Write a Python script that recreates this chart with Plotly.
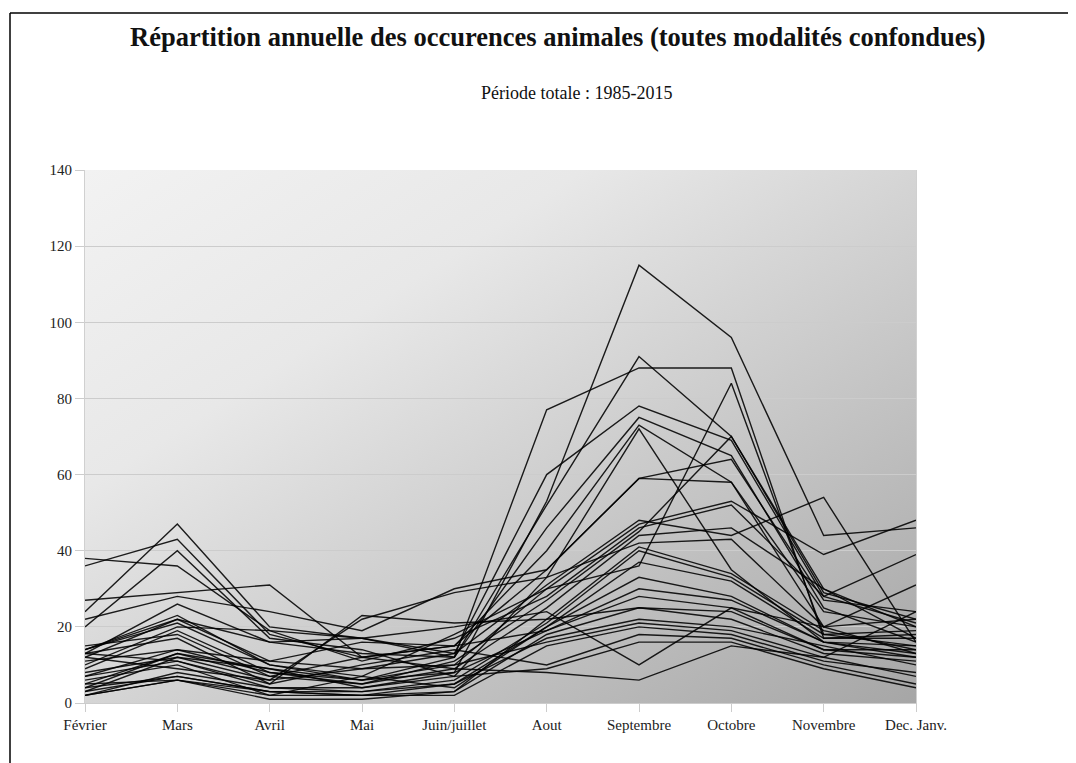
import base64
import plotly.graph_objects as go

categories = ["Février", "Mars", "Avril", "Mai", "Juin/juillet", "Aout",
              "Septembre", "Octobre", "Novembre", "Dec. Janv."]

y_ticks = [0, 20, 40, 60, 80, 100, 120, 140]

v1985 = [5, 13, 9, 4, 8, 53, 115, 96, 44, 46]
v1986 = [14, 23, 10, 6, 12, 52, 91, 70, 29, 22]
v1987 = [13, 26, 16, 13, 12, 77, 88, 88, 17, 18]
v1988 = [7, 14, 8, 6, 10, 30, 36, 84, 18, 15]
v1989 = [24, 47, 20, 17, 13, 60, 78, 69, 28, 21]
v1990 = [38, 36, 19, 17, 12, 46, 75, 65, 25, 16]
v1991 = [36, 43, 18, 12, 15, 40, 73, 58, 20, 13]
v1992 = [20, 40, 17, 14, 7, 33, 72, 35, 16, 12]
v1993 = [27, 29, 31, 12, 15, 35, 59, 64, 27, 24]
v1994 = [22, 28, 24, 19, 30, 35, 59, 58, 24, 20]
v1995 = [12, 22, 11, 9, 13, 31, 48, 44, 54, 16]
v1996 = [14, 21, 10, 7, 18, 30, 47, 53, 39, 48]
v1997 = [10, 20, 19, 11, 17, 28, 46, 52, 28, 39]
v1998 = [9, 19, 8, 5, 11, 27, 45, 70, 30, 17]
v1999 = [15, 18, 7, 12, 9, 25, 44, 46, 30, 20]
v2000 = [3, 12, 6, 22, 29, 33, 42, 43, 20, 31]
v2001 = [13, 11, 5, 23, 21, 22, 41, 34, 19, 14]
v2002 = [2, 8, 4, 3, 6, 21, 40, 33, 18, 19]
v2003 = [4, 7, 3, 2, 5, 20, 37, 32, 17, 17]
v2004 = [6, 10, 2, 7, 4, 20, 33, 28, 16, 15]
v2005 = [11, 14, 11, 16, 15, 19, 30, 27, 16, 13]
v2006 = [8, 12, 9, 6, 8, 19, 28, 25, 14, 12]
v2007 = [2, 6, 1, 1, 3, 18, 25, 22, 13, 11]
v2008 = [3, 7, 3, 3, 5, 17, 22, 20, 15, 10]
v2009 = [12, 9, 6, 9, 10, 16, 21, 19, 12, 24]
v2010 = [5, 6, 2, 2, 2, 15, 20, 18, 11, 8]
v2011 = [13, 17, 5, 10, 14, 10, 18, 17, 10, 5]
v2012 = [7, 11, 4, 4, 7, 9, 16, 16, 9, 4]
v2013 = [14, 22, 16, 17, 20, 24, 10, 25, 20, 22]
v2014 = [4, 13, 7, 5, 9, 8, 6, 15, 12, 7]
v2015 = [2, 6, 3, 2, 3, 22, 25, 24, 14, 14]

years = list(range(1985, 2016))
series = [v1985, v1986, v1987, v1988, v1989, v1990, v1991, v1992, v1993, v1994,
          v1995, v1996, v1997, v1998, v1999, v2000, v2001, v2002, v2003, v2004,
          v2005, v2006, v2007, v2008, v2009, v2010, v2011, v2012, v2013, v2014,
          v2015]

fig = go.Figure()
for yr, vals in zip(years, series):
    fig.add_trace(go.Scatter(
        x=categories, y=vals, mode="lines", name=str(yr),
        line=dict(color="rgba(0,0,0,0.88)", width=1.4),
        hoverinfo="skip", showlegend=False))

svg = ('<svg xmlns="http://www.w3.org/2000/svg" width="830" height="533" '
       'viewBox="0 0 830 533" preserveAspectRatio="none">'
       '<defs><linearGradient id="g" x1="0" y1="0" x2="1" y2="1">'
       '<stop offset="0" stop-color="#f2f2f2"/>'
       '<stop offset="0.3" stop-color="#e8e8e8"/>'
       '<stop offset="1" stop-color="#a6a6a6"/>'
       '</linearGradient></defs>'
       '<rect x="0" y="0" width="830" height="533" fill="url(#g)"/></svg>')
src = "data:image/svg+xml;base64," + base64.b64encode(svg.encode()).decode()

OFF = 8  # page offset of the plot div
W, H = 1076 - OFF, 763 - OFF
L = 85 - OFF
R = W - (916 - OFF)
T = 170 - OFF
B = H - (703 - OFF)
pw, ph = W - L - R, H - T - B


def px(xpage):
    return (xpage - OFF - L) / pw


def py(ypage):
    return (H - B - (ypage - OFF)) / ph


serif = "Liberation Serif, Times New Roman, serif"

fig.update_layout(
    width=W, height=H,
    margin=dict(l=L, r=R, t=T, b=B),
    paper_bgcolor="white",
    plot_bgcolor="rgba(0,0,0,0)",
    font=dict(family=serif, size=15, color="#222"),
    hovermode=False,
    images=[dict(source=src, xref="paper", yref="paper", x=0, y=1,
                 sizex=1, sizey=1, sizing="stretch", layer="below",
                 xanchor="left", yanchor="top")],
    xaxis=dict(range=[0, len(categories) - 1], showgrid=False, zeroline=False,
               showline=True, linecolor="#cccccc", linewidth=1,
               ticks="outside", ticklen=8, tickcolor="#cccccc",
               tickfont=dict(family=serif, size=15, color="#222"),
               fixedrange=True),
    yaxis=dict(range=[0, 140], tickvals=y_ticks, showgrid=True,
               gridcolor="#cccccc", gridwidth=1, zeroline=False,
               showline=True, mirror=True, linecolor="#d0d0d0", linewidth=1,
               ticks="outside", ticklen=9, tickcolor="#cccccc",
               tickfont=dict(family=serif, size=15, color="#222"),
               fixedrange=True),
    annotations=[
        dict(text="<b>Répartition annuelle des occurences animales (toutes modalités confondues)</b>",
             xref="paper", yref="paper", x=px(558), y=py(37),
             xanchor="center", yanchor="middle", showarrow=False,
             font=dict(family=serif, size=26.5, color="#111")),
        dict(text="Période totale : 1985-2015",
             xref="paper", yref="paper", x=px(576), y=py(93),
             xanchor="center", yanchor="middle", showarrow=False,
             font=dict(family=serif, size=18, color="#111")),
    ],
    shapes=[
        dict(type="line", xref="paper", yref="paper",
             x0=px(10), y0=py(780), x1=px(10), y1=py(13),
             line=dict(color="black", width=1.5)),
        dict(type="line", xref="paper", yref="paper",
             x0=px(10), y0=py(13), x1=px(1090), y1=py(13),
             line=dict(color="black", width=1.5)),
    ],
)

fig.write_html("out.html")
